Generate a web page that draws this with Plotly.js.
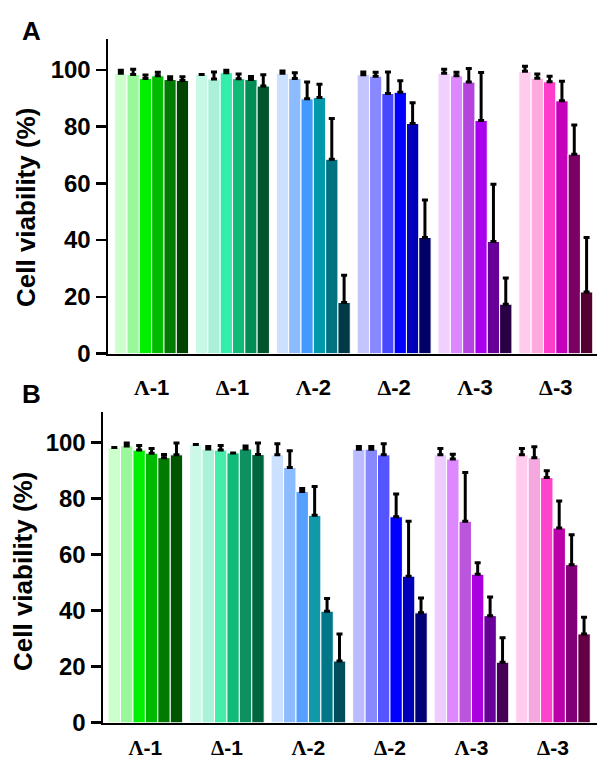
<!DOCTYPE html>
<html>
<head>
<meta charset="utf-8">
<script src="https://cdn.plot.ly/plotly-3.0.1.min.js"></script>
<style>html,body{margin:0;padding:0;background:#fff;}#chart{width:597px;height:763px;}</style>
</head>
<body>
<div id="chart"></div>
<script>
// Categories (compounds)
const categories = ['Λ-1', 'Δ-1', 'Λ-2', 'Δ-2', 'Λ-3', 'Δ-3'];

// Panel A: cell viability (%) per compound, 6 concentrations each
const A_L1 = [98.8, 98.4, 97.0, 97.9, 96.6, 96.3];
const A_D1 = [98.4, 96.8, 99.0, 96.9, 96.6, 94.3];
const A_L2 = [98.8, 97.0, 89.8, 90.3, 68.5, 18.0];
const A_D2 = [98.3, 97.8, 91.7, 92.1, 81.1, 40.9];
const A_L3 = [98.8, 97.9, 95.7, 82.2, 39.5, 17.4];
const A_D3 = [99.5, 97.1, 95.8, 89.1, 70.3, 21.7];
// Panel A: error (upper)
const A_L1_err = [1.1, 1.8, 1.2, 1.3, 1.0, 1.3];
const A_D1_err = [0.0, 2.5, 0.9, 1.7, 1.1, 4.0];
const A_L2_err = [0.8, 2.0, 5.9, 4.6, 14.4, 9.6];
const A_D2_err = [1.0, 1.4, 7.6, 4.1, 7.3, 13.2];
const A_L3_err = [1.4, 1.3, 4.8, 16.9, 20.2, 9.2];
const A_D3_err = [1.8, 1.5, 2.0, 6.9, 10.3, 19.2];

// Panel B
const B_L1 = [98.2, 98.8, 97.3, 96.2, 94.6, 95.6];
const B_D1 = [99.3, 97.7, 97.3, 96.3, 97.7, 95.7];
const B_L2 = [95.6, 91.1, 82.5, 74.0, 39.8, 22.0];
const B_D2 = [97.6, 97.6, 95.6, 73.5, 52.3, 39.2];
const B_L3 = [95.6, 94.1, 71.9, 53.0, 38.2, 21.6];
const B_D3 = [95.6, 94.6, 87.5, 69.5, 56.4, 31.7];
const B_L1_err = [0.0, 1.0, 1.6, 1.7, 1.1, 4.2];
const B_D1_err = [0.0, 0.9, 1.6, 0.0, 1.1, 4.1];
const B_L2_err = [4.0, 6.0, 1.1, 10.3, 4.5, 9.7];
const B_D2_err = [1.0, 1.0, 4.0, 8.1, 19.6, 5.3];
const B_L3_err = [2.3, 1.7, 17.4, 4.1, 6.7, 8.7];
const B_D3_err = [2.3, 3.9, 2.4, 9.6, 10.7, 5.9];

const yTicks = [0, 20, 40, 60, 80, 100];

// Colours per compound (light -> dark)
const colA = [
  ['#ccffcc', '#99f899', '#00f000', '#00bb00', '#007a00', '#004400'],
  ['#c8f8e6', '#aaf0d8', '#33eeaa', '#11bb77', '#008c55', '#00552b'],
  ['#cce0ff', '#8cbcff', '#4499ff', '#0099aa', '#007282', '#003a48'],
  ['#c4c4ff', '#8888ff', '#4848ff', '#0000ff', '#0000b8', '#000066'],
  ['#f0d0ff', '#dd88ff', '#b444dd', '#a800ee', '#660099', '#2a0044'],
  ['#ffccee', '#ffaadd', '#ff3dcc', '#c400bb', '#7a0066', '#550033']
];
const colB = [
  ['#ccffcc', '#99f899', '#00f000', '#00b800', '#007a00', '#005500'],
  ['#ccf8e8', '#aaf2da', '#44eeaa', '#11bb77', '#0f9060', '#006640'],
  ['#cce0ff', '#8cbcff', '#55a0ff', '#1199aa', '#007788', '#004d5c'],
  ['#bbbbff', '#8888ff', '#5555ff', '#0000ff', '#0000bb', '#000077'],
  ['#eeccff', '#dd88ff', '#bb55dd', '#aa00dd', '#660099', '#440055'],
  ['#ffccee', '#f5a8e0', '#ff44cc', '#bb00aa', '#800077', '#660044']
];

const dataA = [A_L1, A_D1, A_L2, A_D2, A_L3, A_D3];
const errA = [A_L1_err, A_D1_err, A_L2_err, A_D2_err, A_L3_err, A_D3_err];
const dataB = [B_L1, B_D1, B_L2, B_D2, B_L3, B_D3];
const errB = [B_L1_err, B_D1_err, B_L2_err, B_D2_err, B_L3_err, B_D3_err];

const xIdx = categories.map((c, i) => i);
const traces = [];
function addPanel(data, err, cols, xa, ya) {
  for (let j = 0; j < 6; j++) {
    traces.push({
      type: 'bar',
      x: xIdx,
      y: data.map(g => g[j]),
      xaxis: xa, yaxis: ya,
      marker: { color: cols.map(g => g[j]), line: { color: '#ffffff', width: 1 } },
      error_y: {
        type: 'data', symmetric: false,
        array: err.map(g => g[j]),
        arrayminus: err.map(() => 0),
        color: '#000000', thickness: 3, width: 3
      },
      showlegend: false,
      hoverinfo: 'y'
    });
  }
}
addPanel(dataA, errA, colA, 'x', 'y');
addPanel(dataB, errB, colB, 'x2', 'y2');

const W = 597, H = 763;
const FONT = 'Liberation Sans, Arial, sans-serif';
const tickText = categories.map(c => '<span style="font-family:Liberation Serif,Times New Roman,serif">' + c[0] + '</span>' + c.slice(1));

function xAxis(domain, range, anchor, standoff, size) {
  return {
    domain: domain, range: range, anchor: anchor,
    tickvals: xIdx, ticktext: tickText,
    ticks: '', showgrid: false, zeroline: false,
    showline: true, linecolor: '#000', linewidth: 2.5,
    ticklabelstandoff: standoff,
    tickfont: { family: FONT, size: size, color: '#000', weight: 'bold' },
    fixedrange: true
  };
}
function yAxis(domain, range, anchor) {
  return {
    domain: domain, range: range, anchor: anchor,
    tickvals: yTicks, ticks: 'outside', ticklen: 10, tickwidth: 2.5, tickcolor: '#000',
    showgrid: false, zeroline: false,
    showline: true, linecolor: '#000', linewidth: 2.5,
    tickfont: { family: FONT, size: 24, color: '#000', weight: 'bold' },
    fixedrange: true
  };
}

const layout = {
  width: W, height: H,
  margin: { l: 0, r: 0, t: 0, b: 0 },
  paper_bgcolor: '#fff', plot_bgcolor: '#fff',
  barmode: 'group', bargap: 0.085, bargroupgap: 0,
  xaxis: xAxis([108 / W, 1], [-0.54, 5.51], 'y', 13, 22),
  yaxis: yAxis([1 - 353.5 / H, 1 - 39 / H], [0, 110.9], 'x'),
  xaxis2: xAxis([103 / W, 1], [-0.52, 5.54], 'y2', 5, 21),
  yaxis2: yAxis([1 - 722.7 / H, 1 - 411.7 / H], [0, 111], 'x2'),
  annotations: [
    { text: 'A', x: 31 / W, y: 1 - 31 / H, xref: 'paper', yref: 'paper', showarrow: false,
      font: { family: FONT, size: 26, color: '#000', weight: 'bold' }, xanchor: 'center', yanchor: 'middle' },
    { text: 'B', x: 31 / W, y: 1 - 394 / H, xref: 'paper', yref: 'paper', showarrow: false,
      font: { family: FONT, size: 26, color: '#000', weight: 'bold' }, xanchor: 'center', yanchor: 'middle' },
    { text: 'Cell viability (%)', x: 26 / W, y: 1 - 208 / H, xref: 'paper', yref: 'paper', showarrow: false,
      textangle: -90, font: { family: FONT, size: 26, color: '#000', weight: 'bold' }, xanchor: 'center', yanchor: 'middle' },
    { text: 'Cell viability (%)', x: 23 / W, y: 1 - 572 / H, xref: 'paper', yref: 'paper', showarrow: false,
      textangle: -90, font: { family: FONT, size: 26, color: '#000', weight: 'bold' }, xanchor: 'center', yanchor: 'middle' }
  ]
};

Plotly.newPlot('chart', traces, layout, { displayModeBar: false, staticPlot: true });
</script>
</body>
</html>
